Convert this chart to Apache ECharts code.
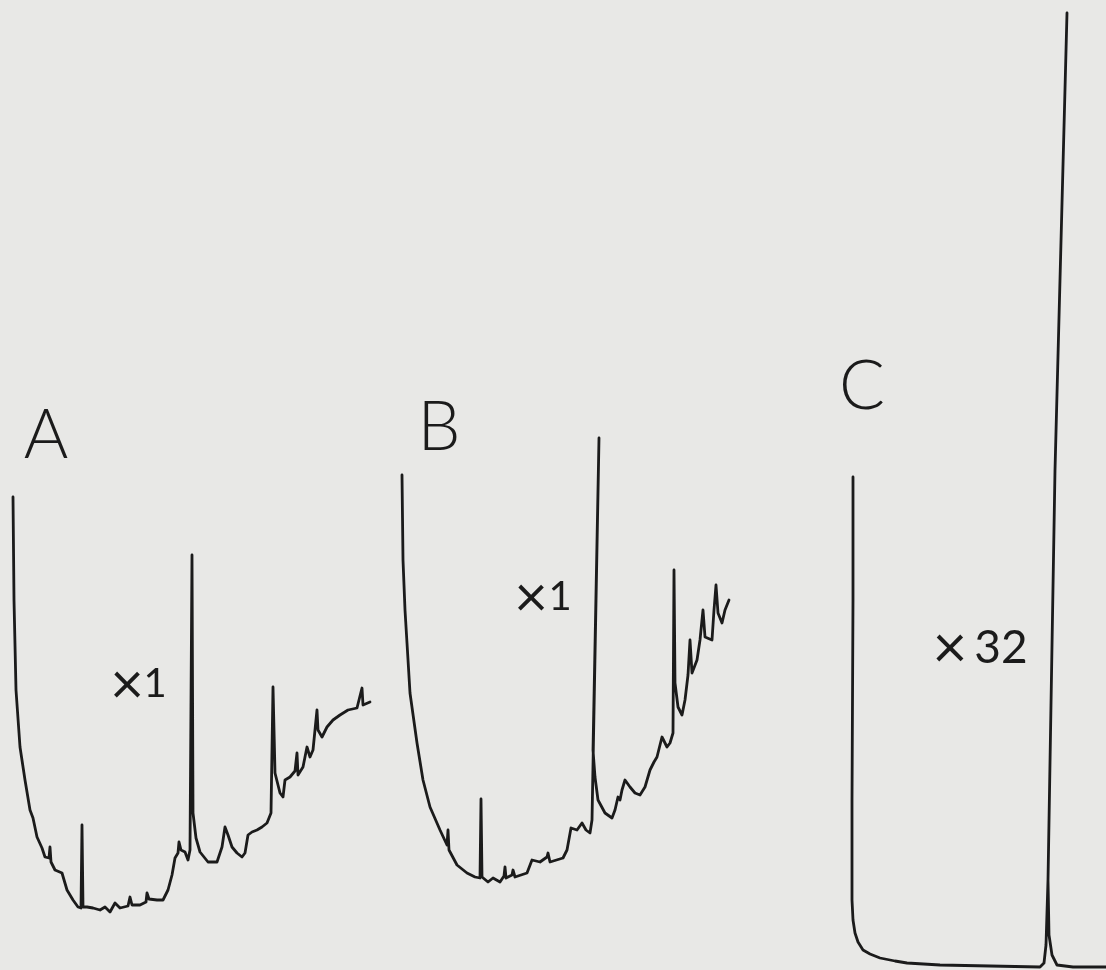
<!DOCTYPE html>
<html>
<head>
<meta charset="utf-8">
<script src="https://cdn.jsdelivr.net/npm/echarts@6/dist/echarts.min.js"></script>
<style>
html,body{margin:0;padding:0;background:#e8e8e6;}
#chart{width:1106px;height:970px;}
</style>
</head>
<body>
<div id="chart"></div>
<script>
// Chromatogram traces: [time position, detector response]
const traceA = [
  [13,473],[14,370],[16,280],[20,223],[25,190],[30,160],[33,152],[37,133],[42,122],[45,113],
  [49,112],[50,123],[51,108],[55,100],[62,97],[67,80],[73,70],[78,63],[81,62],[82,145],
  [83,63],[87,63],[93,62],[100,60],[105,63],[110,58],[115,67],[120,62],[128,64],[130,73],
  [132,65],[140,65],[146,68],[147,77],[149,71],[157,70],[163,70],[168,80],[172,95],[175,112],
  [178,117],[179,128],[181,120],[185,118],[188,110],[190,120],[192,415],[193,157],[196,132],
  [200,118],[208,108],[217,108],[222,123],[225,143],[228,135],[232,123],[237,117],[242,113],
  [245,117],[248,135],[252,138],[257,140],[262,143],[267,147],[271,157],[273,283],[275,197],
  [280,177],[283,173],[285,190],[290,193],[295,199],[297,217],[298,195],[303,203],[307,223],
  [310,213],[313,220],[317,260],[318,240],[322,233],[327,243],[333,250],[340,255],[348,260],
  [357,262],[362,282],[363,265],[370,268]
];
const traceB = [
  [402,495],[403,410],[405,360],[407,327],[410,277],[417,227],[423,190],[430,163],[440,140],
  [447,125],[448,140],[449,120],[457,105],[467,97],[475,93],[480,92],[481,171],[482,93],
  [488,88],[493,92],[500,88],[504,94],[505,103],[506,92],[512,95],[513,100],[515,93],
  [527,97],[532,110],[540,108],[547,113],[548,117],[550,108],[563,112],[567,120],[571,142],
  [577,140],[582,147],[586,140],[590,137],[592,150],[599,532],[593,220],[595,193],[598,170],
  [605,157],[612,152],[615,160],[618,173],[620,170],[622,180],[625,190],[630,183],[635,177],
  [640,175],[645,183],[650,200],[654,208],[657,213],[662,233],[667,223],[670,227],[673,237],
  [674,400],[675,287],[678,263],[682,255],[685,270],[688,295],[690,330],[692,297],[697,310],
  [700,330],[703,360],[705,333],[712,330],[714,360],[716,385],[718,357],[722,347],[725,360],
  [729,370]
];
const traceC = [
  [853,493],[853,370],[852,170],[852,70],[853,50],[855,37],[858,28],[863,20],[870,16],
  [880,12],[895,9],[907,7],[940,5],[990,4],[1040,3],[1044,7],[1046,25],[1048,90],
  [1055,500],[1067,957],[1055,500],[1048,90],[1049,35],[1052,15],[1057,5],[1073,3],[1106,3]
];
const panelLabels = ['A', 'B', 'C'];
const gainSigns = ['×', '×', '×'];
const gainValues = ['1', '1', '32'];

const chart = echarts.init(document.getElementById('chart'), null, {renderer: 'canvas'});
const lineStyle = {color: '#1b1b1b', width: 2.8, join: 'round', cap: 'round'};
const mkSeries = (name, data) => ({
  name, type: 'line', data, showSymbol: false, symbol: 'none', smooth: false,
  lineStyle, animation: false, silent: true
});
const fontFam = 'Lato, "Open Sans", "DejaVu Sans", sans-serif';
const txt = (text, x, y, size, weight) => ({
  type: 'text', x, y,
  style: {text, fill: '#1b1b1b', font: (weight || 300) + ' ' + size + 'px ' + fontFam, align: 'center', verticalAlign: 'middle'}
});
chart.setOption({
  backgroundColor: '#e8e8e6',
  animation: false,
  grid: {left: 0, right: 0, top: 0, bottom: 0},
  xAxis: {type: 'value', min: 0, max: 1106, show: false},
  yAxis: {type: 'value', min: 0, max: 970, show: false},
  series: [mkSeries('A', traceA), mkSeries('B', traceB), mkSeries('C', traceC)],
  graphic: [
    txt(panelLabels[0], 46, 436, 68),
    txt(panelLabels[1], 439, 428, 68),
    txt(panelLabels[2], 862, 387, 68),
    txt(gainSigns[0], 127, 685, 58, 400),
    txt(gainValues[0], 155, 684, 40, 400),
    txt(gainSigns[1], 531, 598, 58, 400),
    txt(gainValues[1], 560, 597, 40, 400),
    txt(gainSigns[2], 950, 649, 60, 400),
    txt(gainValues[2], 1001, 648, 46, 400)
  ]
});
</script>
</body>
</html>
